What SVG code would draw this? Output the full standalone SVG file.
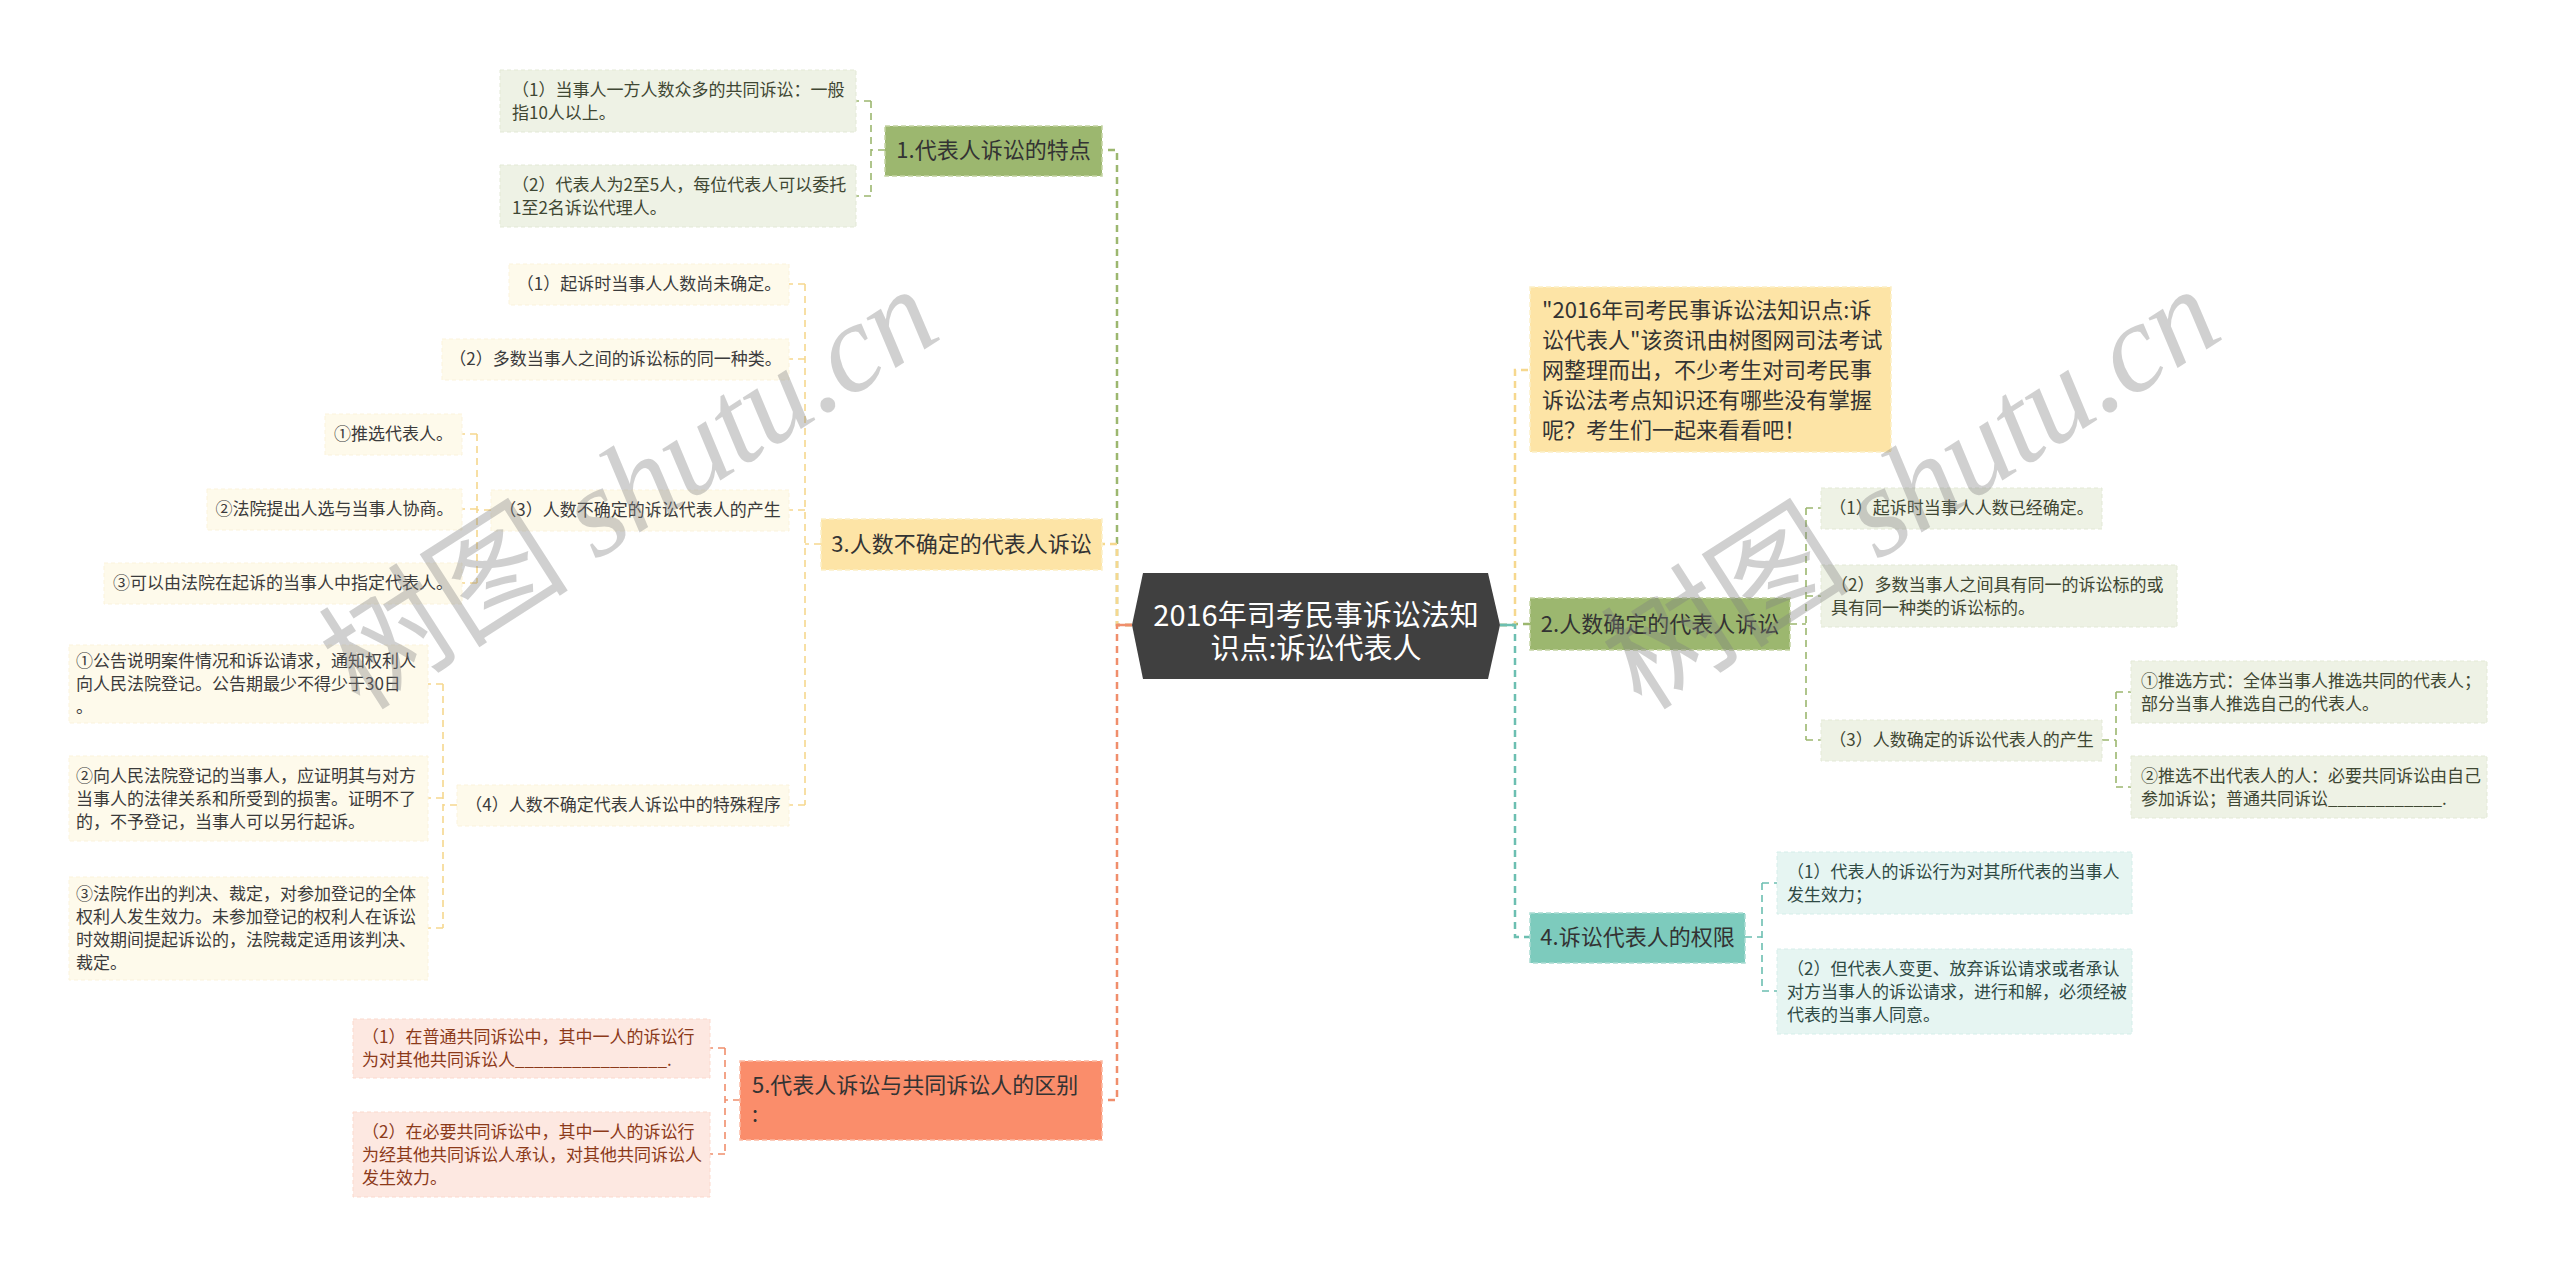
<svg xmlns="http://www.w3.org/2000/svg" width="2560" height="1269" viewBox="0 0 2560 1269">
<style>
text{font-family:"Noto Sans CJK SC","Noto Sans",sans-serif;}
.bg{fill:#ffffff;}
.c{text-anchor:middle;}
.nt{font-size:22px;fill:#333333;}
.ct{font-size:17px;}
.gN{fill:#9cb76f;stroke:#c3d4a3;stroke-width:1.5;stroke-dasharray:5 3;}
.yN{fill:#fde4a6;stroke:#fbefc8;stroke-width:1.5;stroke-dasharray:5 3;}
.oN{fill:#fa8d6b;stroke:#fcb9a2;stroke-width:1.5;stroke-dasharray:5 3;}
.tN{fill:#7dcbbd;stroke:#a9dcd2;stroke-width:1.5;stroke-dasharray:5 3;}
.gC{fill:#eef2e5;stroke:#e3e9d6;stroke-width:1;stroke-dasharray:4 3;}
.yC{fill:#fefaeb;stroke:#fbf3dc;stroke-width:1;stroke-dasharray:4 3;}
.oC{fill:#fde8e1;stroke:#fbd9cd;stroke-width:1;stroke-dasharray:4 3;}
.tC{fill:#e6f5f2;stroke:#d5eeea;stroke-width:1;stroke-dasharray:4 3;}
.gT{fill:#3f4733;}
.yT{fill:#3b3b3b;}
.oT{fill:#8c3a1a;}
.tT{fill:#2f4a45;}
.ln{fill:none;stroke-dasharray:7 5;}
.L1{stroke-width:2.5;}
.L2{stroke-width:1.6;}
.g{stroke:#9cb76f;}
.y{stroke:#f6d88e;}
.o{stroke:#f08e6c;}
.t{stroke:#6cbfb1;}
.wm{font-size:126px;fill:#808080;opacity:0.36;font-family:"Liberation Serif",serif;font-style:italic;}
</style>
<rect class="bg" x="0" y="0" width="2560" height="1269"/>

<g id="connectors">
  <path class="ln L1 g" d="M1132,625 H1117 V150 H1102"/>
  <path class="ln L1 y" d="M1132,625 H1117 V544 H1102"/>
  <path class="ln L1 o" d="M1132,625 H1117 V1100 H1102"/>
  <path fill="none" stroke="#f08e6c" stroke-width="2.5" d="M1132,625 H1117"/>
  <path class="ln L1 g" d="M1500,625 H1515 V624 H1530"/>
  <path class="ln L1 y" d="M1500,625 H1515 V370 H1530"/>
  <path class="ln L1 t" d="M1500,625 H1515 V937 H1530"/>
  <path fill="none" stroke="#6cbfb1" stroke-width="2.5" d="M1500,625 H1515"/>

  <path class="ln L2 g" d="M885,150 H871 M871,101 V196 M871,101 H856 M871,196 H856"/>
  <path class="ln L2 y" d="M821,544 H805 M805,284 V805 M805,284 H789 M805,359 H789 M805,510 H789 M805,805 H789"/>
  <path class="ln L2 y" d="M491,510 H477 M477,434 V583 M477,434 H462 M477,509 H462 M477,583 H462"/>
  <path class="ln L2 y" d="M457,805 H443 M443,684 V928 M443,684 H428 M443,798 H428 M443,928 H428"/>
  <path class="ln L2 o" d="M740,1100 H725 M725,1048 V1154 M725,1048 H710 M725,1154 H710"/>
  <path class="ln L2 g" d="M1790,624 H1806 M1806,508 V740 M1806,508 H1821 M1806,596 H1821 M1806,740 H1821"/>
  <path class="ln L2 g" d="M2102,740 H2116 M2116,692 V787 M2116,692 H2131 M2116,787 H2131"/>
  <path class="ln L2 t" d="M1745,937 H1762 M1762,883 V991 M1762,883 H1777 M1762,991 H1777"/>
</g>

<g id="center">
  <polygon points="1132,625 1143,573 1488,573 1500,625 1488,679 1143,679" fill="#404040"/>
  <text class="c" x="1316" y="626" font-size="29" fill="#ffffff">2016年司考民事诉讼法知</text>
  <text class="c" x="1316" y="659" font-size="29" fill="#ffffff">识点:诉讼代表人</text>
</g>

<g id="node1">
  <rect class="gN" x="885" y="126" width="217" height="50"/>
  <text class="nt c" x="993.5" y="158">1.代表人诉讼的特点</text>
</g>
<g id="node1-1">
  <rect class="gC" x="500" y="70" width="356" height="62"/>
  <text class="ct gT" x="512" y="95.5">（1）当事人一方人数众多的共同诉讼：一般</text>
  <text class="ct gT" x="512" y="118.5">指10人以上。</text>
</g>
<g id="node1-2">
  <rect class="gC" x="500" y="165" width="356" height="62"/>
  <text class="ct gT" x="512" y="190.5">（2）代表人为2至5人，每位代表人可以委托</text>
  <text class="ct gT" x="512" y="213.5">1至2名诉讼代理人。</text>
</g>

<g id="node3">
  <rect class="yN" x="821" y="519" width="281" height="51"/>
  <text class="nt c" x="961.5" y="552">3.人数不确定的代表人诉讼</text>
</g>
<g id="node3-1">
  <rect class="yC" x="509" y="264" width="280" height="41"/>
  <text class="ct yT c" x="649" y="290">（1）起诉时当事人人数尚未确定。</text>
</g>
<g id="node3-2">
  <rect class="yC" x="442" y="339" width="347" height="41"/>
  <text class="ct yT c" x="615.5" y="365">（2）多数当事人之间的诉讼标的同一种类。</text>
</g>
<g id="node3-3">
  <rect class="yC" x="491" y="490" width="298" height="41"/>
  <text class="ct yT c" x="640" y="516">（3）人数不确定的诉讼代表人的产生</text>
</g>
<g id="node3-3-1">
  <rect class="yC" x="325" y="414" width="137" height="41"/>
  <text class="ct yT c" x="393.5" y="440">①推选代表人。</text>
</g>
<g id="node3-3-2">
  <rect class="yC" x="207" y="489" width="255" height="41"/>
  <text class="ct yT c" x="334.5" y="515">②法院提出人选与当事人协商。</text>
</g>
<g id="node3-3-3">
  <rect class="yC" x="104" y="563" width="358" height="41"/>
  <text class="ct yT c" x="283" y="589">③可以由法院在起诉的当事人中指定代表人。</text>
</g>
<g id="node3-4">
  <rect class="yC" x="457" y="785" width="332" height="41"/>
  <text class="ct yT c" x="623" y="811">（4）人数不确定代表人诉讼中的特殊程序</text>
</g>
<g id="node3-4-1">
  <rect class="yC" x="69" y="645" width="359" height="78"/>
  <text class="ct yT" x="76" y="667">①公告说明案件情况和诉讼请求，通知权利人</text>
  <text class="ct yT" x="76" y="690">向人民法院登记。公告期最少不得少于30日</text>
  <text class="ct yT" x="76" y="713">。</text>
</g>
<g id="node3-4-2">
  <rect class="yC" x="69" y="756" width="359" height="85"/>
  <text class="ct yT" x="76" y="781.5">②向人民法院登记的当事人，应证明其与对方</text>
  <text class="ct yT" x="76" y="804.5">当事人的法律关系和所受到的损害。证明不了</text>
  <text class="ct yT" x="76" y="827.5">的，不予登记，当事人可以另行起诉。</text>
</g>
<g id="node3-4-3">
  <rect class="yC" x="69" y="877" width="359" height="103"/>
  <text class="ct yT" x="76" y="900">③法院作出的判决、裁定，对参加登记的全体</text>
  <text class="ct yT" x="76" y="923">权利人发生效力。未参加登记的权利人在诉讼</text>
  <text class="ct yT" x="76" y="946">时效期间提起诉讼的，法院裁定适用该判决、</text>
  <text class="ct yT" x="76" y="969">裁定。</text>
</g>

<g id="node5">
  <rect class="oN" x="740" y="1061" width="362" height="79"/>
  <text class="nt" x="752" y="1093">5.代表人诉讼与共同诉讼人的区别</text>
  <text class="nt" x="752" y="1122">:</text>
</g>
<g id="node5-1">
  <rect class="oC" x="353" y="1019" width="357" height="59"/>
  <text class="ct oT" x="362" y="1043">（1）在普通共同诉讼中，其中一人的诉讼行</text>
  <text class="ct oT" x="362" y="1066">为对其他共同诉讼人________________.</text>
</g>
<g id="node5-2">
  <rect class="oC" x="353" y="1112" width="357" height="85"/>
  <text class="ct oT" x="362" y="1137.5">（2）在必要共同诉讼中，其中一人的诉讼行</text>
  <text class="ct oT" x="362" y="1160.5">为经其他共同诉讼人承认，对其他共同诉讼人</text>
  <text class="ct oT" x="362" y="1183.5">发生效力。</text>
</g>

<g id="summary">
  <rect class="yN" x="1530" y="287" width="361" height="165"/>
  <text class="nt" x="1542" y="318">"2016年司考民事诉讼法知识点:诉</text>
  <text class="nt" x="1542" y="348">讼代表人"该资讯由树图网司法考试</text>
  <text class="nt" x="1542" y="378">网整理而出，不少考生对司考民事</text>
  <text class="nt" x="1542" y="408">诉讼法考点知识还有哪些没有掌握</text>
  <text class="nt" x="1542" y="438">呢？考生们一起来看看吧！</text>
</g>

<g id="node2">
  <rect class="gN" x="1530" y="598" width="260" height="52"/>
  <text class="nt c" x="1660" y="632">2.人数确定的代表人诉讼</text>
</g>
<g id="node2-1">
  <rect class="gC" x="1821" y="488" width="281" height="41"/>
  <text class="ct gT c" x="1961.5" y="514">（1）起诉时当事人人数已经确定。</text>
</g>
<g id="node2-2">
  <rect class="gC" x="1821" y="565" width="356" height="62"/>
  <text class="ct gT" x="1831" y="590.5">（2）多数当事人之间具有同一的诉讼标的或</text>
  <text class="ct gT" x="1831" y="613.5">具有同一种类的诉讼标的。</text>
</g>
<g id="node2-3">
  <rect class="gC" x="1821" y="720" width="281" height="41"/>
  <text class="ct gT c" x="1961.5" y="746">（3）人数确定的诉讼代表人的产生</text>
</g>
<g id="node2-3-1">
  <rect class="gC" x="2131" y="661" width="356" height="62"/>
  <text class="ct gT" x="2141" y="686.5">①推选方式：全体当事人推选共同的代表人；</text>
  <text class="ct gT" x="2141" y="709.5">部分当事人推选自己的代表人。</text>
</g>
<g id="node2-3-2">
  <rect class="gC" x="2131" y="756" width="356" height="62"/>
  <text class="ct gT" x="2141" y="781.5">②推选不出代表人的人：必要共同诉讼由自己</text>
  <text class="ct gT" x="2141" y="804.5">参加诉讼；普通共同诉讼____________.</text>
</g>

<g id="node4">
  <rect class="tN" x="1530" y="913" width="215" height="50"/>
  <text class="nt c" x="1637.5" y="945">4.诉讼代表人的权限</text>
</g>
<g id="node4-1">
  <rect class="tC" x="1777" y="852" width="355" height="62"/>
  <text class="ct tT" x="1787" y="877.5">（1）代表人的诉讼行为对其所代表的当事人</text>
  <text class="ct tT" x="1787" y="900.5">发生效力；</text>
</g>
<g id="node4-2">
  <rect class="tC" x="1777" y="949" width="355" height="85"/>
  <text class="ct tT" x="1787" y="974.5">（2）但代表人变更、放弃诉讼请求或者承认</text>
  <text class="ct tT" x="1787" y="997.5">对方当事人的诉讼请求，进行和解，必须经被</text>
  <text class="ct tT" x="1787" y="1020.5">代表的当事人同意。</text>
</g>

<g id="watermarks">
  <text class="wm" transform="translate(360,712) rotate(-32.7)" textLength="695" lengthAdjust="spacing"><tspan font-family="Noto Sans CJK SC" font-style="normal">树图</tspan> shutu.cn</text>
  <text class="wm" transform="translate(1642,712) rotate(-32.7)" textLength="695" lengthAdjust="spacing"><tspan font-family="Noto Sans CJK SC" font-style="normal">树图</tspan> shutu.cn</text>
</g>
</svg>
